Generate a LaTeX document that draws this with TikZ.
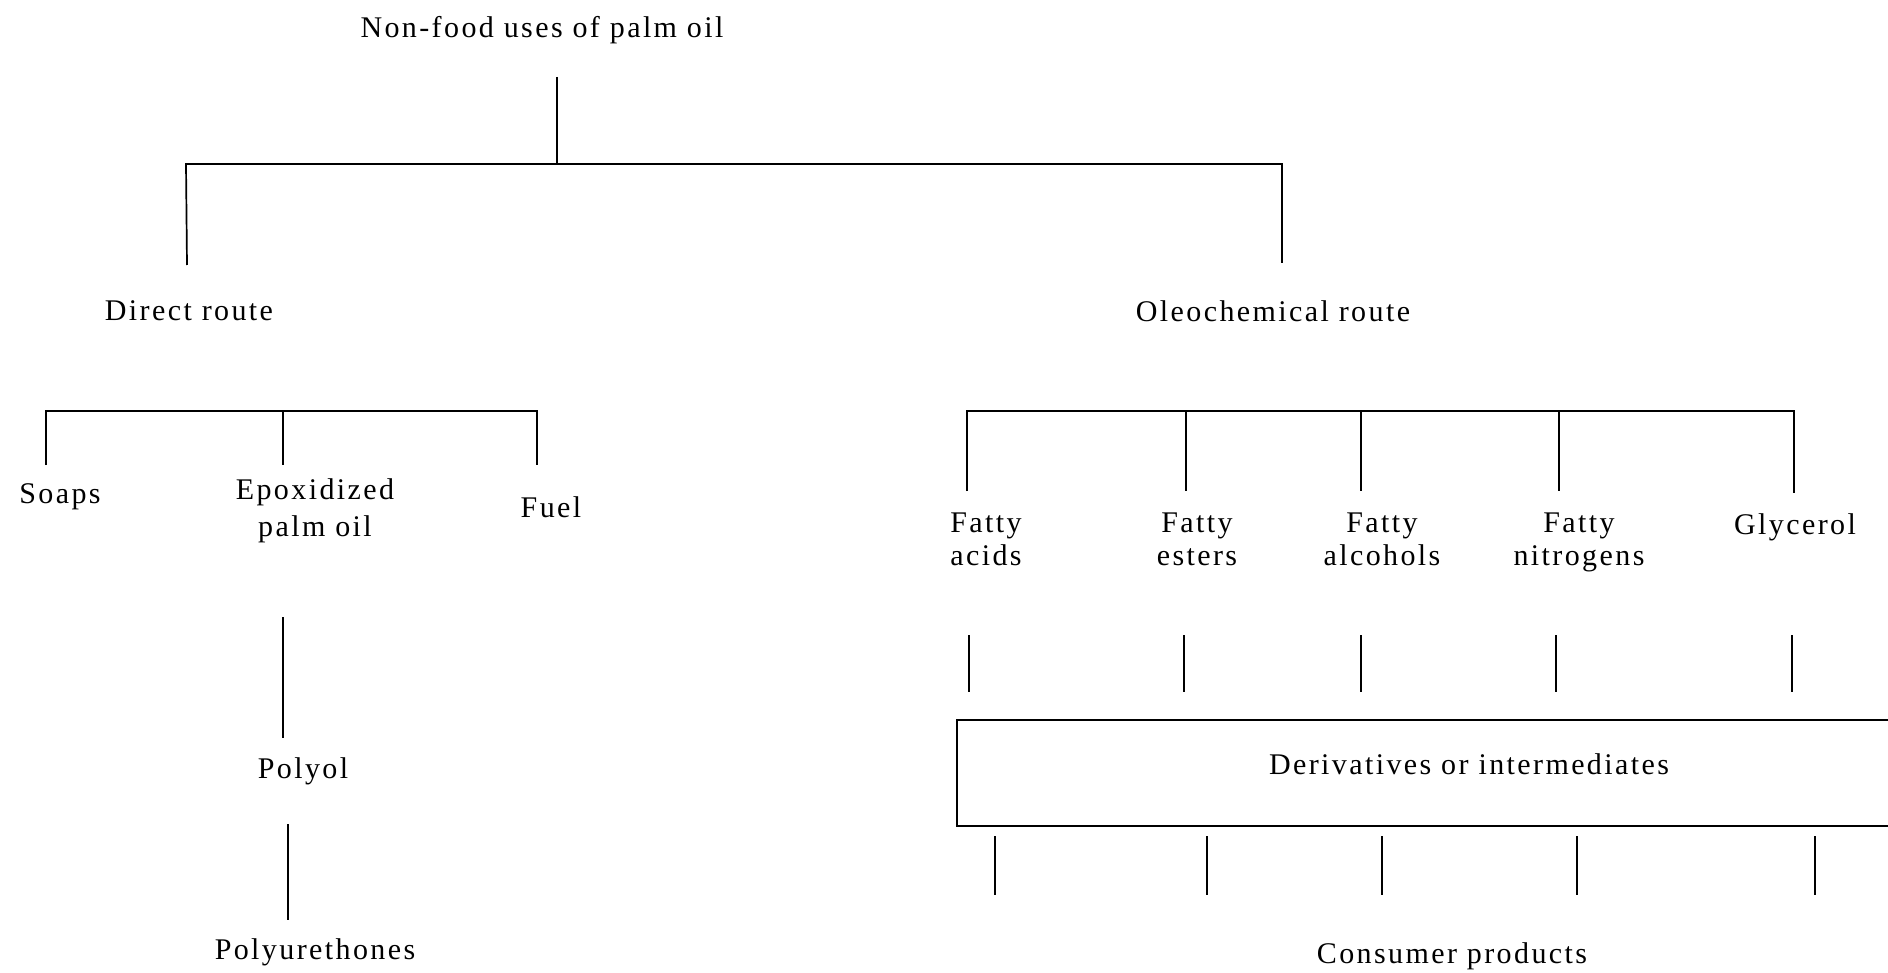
\documentclass[tikz,border=0pt]{standalone}
\usepackage{fontspec}
\setmainfont{Liberation Serif}[LetterSpace=8]
\begin{document}
\begin{tikzpicture}[x=1pt,y=-1pt,
  lbl/.style={inner sep=0pt, align=center, font=\fontsize{30}{33}\selectfont},
  ln/.style={line width=1.7pt, black}]
\useasboundingbox (0,0) rectangle (1888,973);
% title
\node[lbl] (top) at (542,30) {Non-food uses of palm oil};
\coordinate (t1) at (557,77);
\coordinate (j1) at (557,164);
\coordinate (bL) at (186,164);
\coordinate (bR) at (1282,164);
\coordinate (drT) at (187,265);
\coordinate (orT) at (1282,263);
\draw[ln] (t1) -- (j1);
\draw[ln] (drT) -- (bL) -- (bR) -- (orT);
\node[lbl] (dr) at (189,311) {Direct route};
\node[lbl] (or) at (1273,311) {Oleochemical route};
% direct route subtree
\coordinate (l1) at (46,411);
\coordinate (l2) at (283,411);
\coordinate (l3) at (537,411);
\coordinate (l1b) at (46,465);
\coordinate (l2b) at (283,465);
\coordinate (l3b) at (537,465);
\draw[ln] (l1b) -- (l1) -- (l3) -- (l3b);
\draw[ln] (l2) -- (l2b);
\node[lbl] (soaps) at (60,497) {Soaps};
\node[lbl, font=\fontsize{30}{37}\selectfont] (epo) at (315,511) {Epoxidized\\palm oil};
\node[lbl] (fuel) at (551,507) {Fuel};
\coordinate (e1) at (283,617);
\coordinate (e2) at (283,738);
\draw[ln] (e1) -- (e2);
\node[lbl] (polyol) at (303,771) {Polyol};
\coordinate (p1) at (288,824);
\coordinate (p2) at (288,920);
\draw[ln] (p1) -- (p2);
\node[lbl] (pu) at (315,952) {Polyurethones};
% oleochemical subtree
\coordinate (r1) at (967,411);
\coordinate (r2) at (1186,411);
\coordinate (r3) at (1361,411);
\coordinate (r4) at (1559,411);
\coordinate (r5) at (1794,411);
\coordinate (r1b) at (967,491);
\coordinate (r2b) at (1186,491);
\coordinate (r3b) at (1361,491);
\coordinate (r4b) at (1559,491);
\coordinate (r5b) at (1794,493);
\draw[ln] (r1b) -- (r1) -- (r5) -- (r5b);
\draw[ln] (r2) -- (r2b);
\draw[ln] (r3) -- (r3b);
\draw[ln] (r4) -- (r4b);
\node[lbl,anchor=north] (fa) at (986,513) {Fatty\\acids};
\node[lbl,anchor=north] (fe) at (1197,513) {Fatty\\esters};
\node[lbl,anchor=north] (fal) at (1382,513) {Fatty\\alcohols};
\node[lbl,anchor=north] (fn) at (1579,513) {Fatty\\nitrogens};
\node[lbl,anchor=north] (gl) at (1795,513) {Glycerol};
% connectors to box
\foreach \n/\x in {a/969,b/1184,c/1361,d/1556,e/1792}{
  \coordinate (u\n) at (\x,635);
  \coordinate (v\n) at (\x,692);
  \draw[ln] (u\n) -- (v\n);
}
% box (open to the right edge)
\coordinate (bxTL) at (957,720);
\coordinate (bxBL) at (957,826);
\coordinate (bxTR) at (1900,720);
\coordinate (bxBR) at (1900,826);
\draw[ln] (bxTR) -- (bxTL) -- (bxBL) -- (bxBR);
\node[lbl] (deriv) at (1469,764) {Derivatives or intermediates};
\foreach \n/\x in {a/995,b/1207,c/1382,d/1577,e/1815}{
  \coordinate (w\n) at (\x,836);
  \coordinate (z\n) at (\x,895);
  \draw[ln] (w\n) -- (z\n);
}
\node[lbl] (cons) at (1452,956) {Consumer products};
\end{tikzpicture}
\end{document}
